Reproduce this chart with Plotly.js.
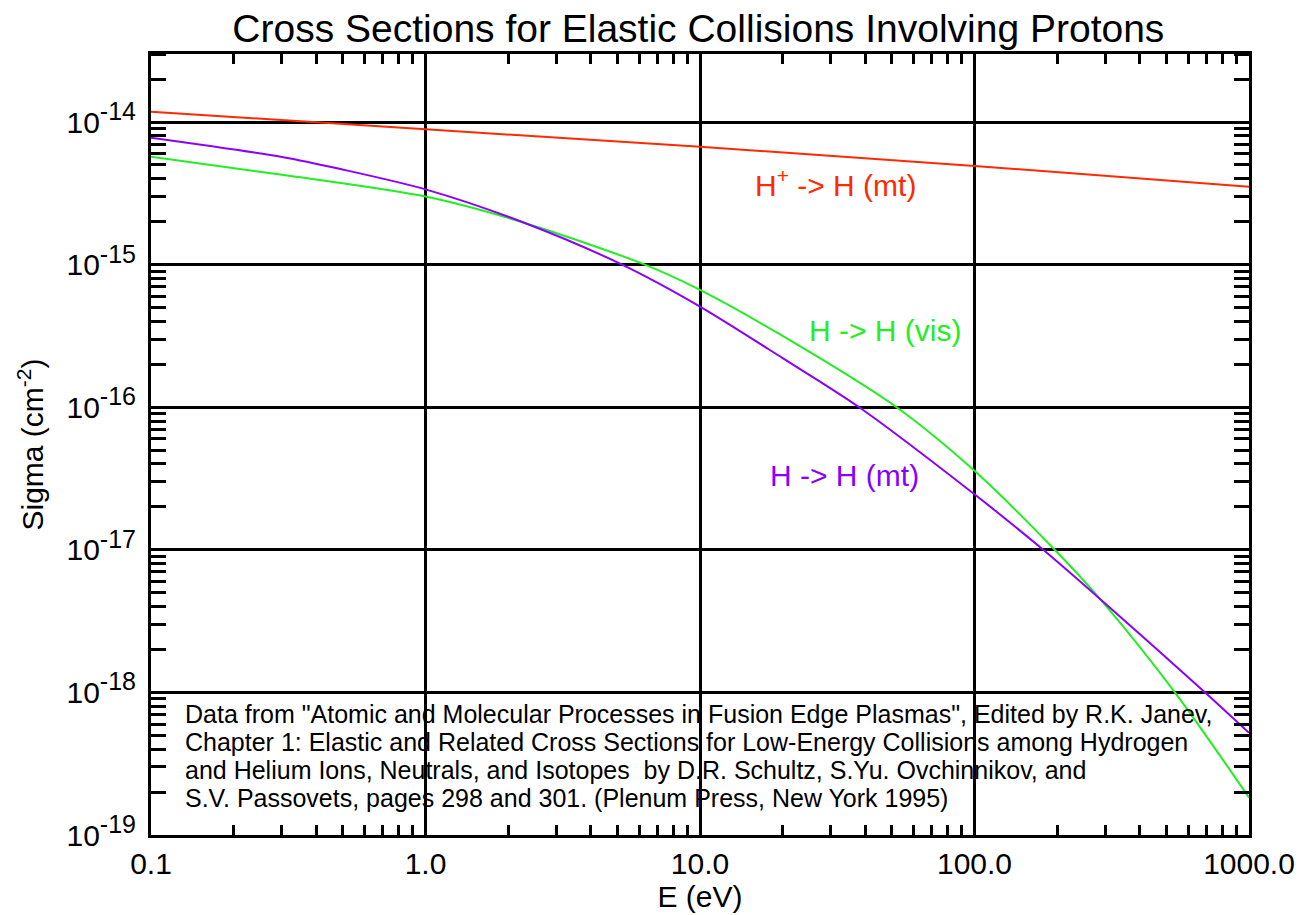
<!DOCTYPE html>
<html>
<head>
<meta charset="utf-8">
<script src="https://cdn.plot.ly/plotly-3.0.1.min.js"></script>
<style>html,body{margin:0;padding:0;background:#fff;}#chart{width:1309px;height:915px;}</style>
</head>
<body>
<div id="chart"></div>
<script>
// ---- data ----
const E_ionMt = [0.1, 0.4, 1, 10, 100, 1000];
const sigma_ionMt = [1.18e-14, 1.0e-14, 8.89e-15, 6.71e-15, 4.92e-15, 3.52e-15];

const E_hMt = [0.1, 0.3, 0.49, 1, 2.3, 5.2, 10, 20, 38, 100, 178, 286, 692, 1000];
const sigma_hMt = [7.76e-15, 5.69e-15, 4.68e-15, 3.37e-15, 1.96e-15, 1.0e-15, 5.08e-16, 2.21e-16, 1.0e-16, 2.45e-17, 1.0e-17, 4.54e-18, 1.0e-18, 5.21e-19];

const E_hVis = [0.1, 0.3, 1, 2.3, 6.3, 10, 20, 52, 100, 196, 286, 537, 1000];
const sigma_hVis = [5.71e-15, 4.27e-15, 3.0e-15, 1.96e-15, 1.0e-15, 6.65e-16, 3.16e-16, 1.0e-16, 3.58e-17, 1.0e-17, 4.54e-18, 1.0e-18, 1.83e-19];

const xTickVals = [0.1, 1, 10, 100, 1000];
const xTickText = ['0.1', '1.0', '10.0', '100.0', '1000.0'];
const yTickVals = [1e-19, 1e-18, 1e-17, 1e-16, 1e-15, 1e-14];
const yTickExp = ['-19', '-18', '-17', '-16', '-15', '-14'];

const seriesNames = ['H<sup>+</sup> -> H (mt)', 'H -> H (vis)', 'H -> H (mt)'];
const noteLines = [
  'Data from "Atomic and Molecular Processes in Fusion Edge Plasmas", Edited by R.K. Janev,',
  'Chapter 1: Elastic and Related Cross Sections for Low-Energy Collisions among Hydrogen',
  'and Helium Ions, Neutrals, and Isotopes \u00a0by D.R. Schultz, S.Yu. Ovchinnikov, and',
  'S.V. Passovets, pages 298 and 301. (Plenum Press, New York 1995)'
];

// minor tick positions (2..9 within each decade)
function minorTicks(lo, hi) {
  const out = [];
  for (let d = lo; d < hi; d++) for (let m = 2; m <= 9; m++) out.push(m * Math.pow(10, d));
  return out;
}

const FONT = 'Liberation Sans, Arial, Helvetica, sans-serif';
const RED = '#ff2a00', GREEN = '#22ee22', PURPLE = '#8a00ff';

const yTickText = yTickExp.map(e => '10<sup><span style="font-size:25px">' + e + '</span></sup>');

const traces = [
  {x: E_ionMt, y: sigma_ionMt, mode: 'lines', line: {color: RED, width: 2}, name: seriesNames[0]},
  {x: E_hVis, y: sigma_hVis, mode: 'lines', line: {color: GREEN, width: 2, shape: 'spline', smoothing: 0.8}, name: seriesNames[1]},
  {x: E_hMt, y: sigma_hMt, mode: 'lines', line: {color: PURPLE, width: 2, shape: 'spline', smoothing: 0.8}, name: seriesNames[2]}
];

const axisCommon = {
  type: 'log',
  showgrid: true, gridcolor: '#000', gridwidth: 3,
  showline: true, linecolor: '#000', linewidth: 3, mirror: 'allticks',
  zeroline: false,
  ticks: '',
  tickmode: 'array',
  tickfont: {family: FONT, size: 30, color: '#000'},
  automargin: false
};

const layout = {
  width: 1309, height: 915,
  paper_bgcolor: '#fff', plot_bgcolor: '#fff',
  margin: {l: 151, r: 60, t: 54, b: 80},
  showlegend: false,
  font: {family: FONT, color: '#000'},
  title: {text: 'Cross Sections for Elastic Collisions Involving Protons',
          font: {family: FONT, size: 39, color: '#000'},
          x: 0.5335, xanchor: 'center', y: 0.969, yanchor: 'middle'},
  xaxis: Object.assign({}, axisCommon, {
    range: [-1, 3],
    tickvals: xTickVals, ticktext: xTickText,
    minor: {tickmode: 'array', tickvals: minorTicks(-1, 3), ticks: 'inside', ticklen: 10, tickwidth: 3, tickcolor: '#000', showgrid: false},
    title: {text: 'E (eV)', font: {family: FONT, size: 30, color: '#000'}, standoff: 5}
  }),
  yaxis: Object.assign({}, axisCommon, {
    range: [-19, Math.log10(3e-14)],
    tickvals: yTickVals, ticktext: yTickText,
    ticklabelstandoff: 6,
    minor: {tickmode: 'array', tickvals: minorTicks(-19, -13), ticks: 'inside', ticklen: 15, tickwidth: 3, tickcolor: '#000', showgrid: false},
    title: {text: 'Sigma (cm<sup>-2</sup>)', font: {family: FONT, size: 30, color: '#000'}, standoff: 14}
  }),
  annotations: [
    {x: 1.492, y: -14.43, xref: 'x', yref: 'y', text: seriesNames[0], showarrow: false,
     font: {family: FONT, size: 30, color: RED}, xanchor: 'center', yanchor: 'middle'},
    {x: 1.674, y: -15.465, xref: 'x', yref: 'y', text: seriesNames[1], showarrow: false,
     font: {family: FONT, size: 30, color: GREEN}, xanchor: 'center', yanchor: 'middle'},
    {x: 1.525, y: -16.481, xref: 'x', yref: 'y', text: seriesNames[2], showarrow: false,
     font: {family: FONT, size: 30, color: PURPLE}, xanchor: 'center', yanchor: 'middle'}
  ].concat(noteLines.map((t, i) => ({
     x: 0.0291, y: 0.1546 - i * 0.0356, xref: 'paper', yref: 'paper', text: t, showarrow: false,
     font: {family: FONT, size: 25, color: '#000'}, xanchor: 'left', yanchor: 'middle', align: 'left'
  })))
};

Plotly.newPlot('chart', traces, layout, {displayModeBar: false, staticPlot: true});
</script>
</body>
</html>
